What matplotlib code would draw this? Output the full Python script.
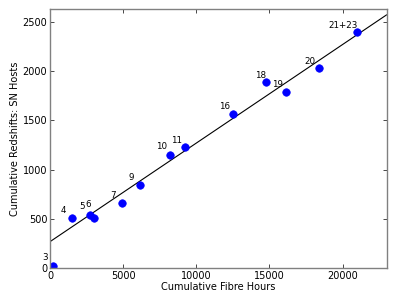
import matplotlib
matplotlib.use("Agg")
import matplotlib.pyplot as plt
import numpy as np

labels = ["3", "4", "5", "6", "7", "9", "10", "11", "16", "18", "19", "20", "21+23"]
fibre_hours = [226, 1507, 2719, 3035, 4932, 6144, 8172, 9199, 12486, 14795, 16118, 18404, 20959]
redshifts = [26, 510, 544, 513, 659, 842, 1152, 1227, 1562, 1886, 1788, 2031, 2393]
fit_intercept = 270
fit_slope = 0.1

label_offsets = [(-8, 8), (-9, 8), (-8, 8), (-6, 13), (-9, 8), (-9, 8), (-8, 8),
                 (-8, 7), (-8, 8), (-6, 7), (-8, 8), (-9, 7), (-14, 7)]

fig = plt.figure(figsize=(3.99, 2.99), dpi=100)
ax = fig.add_axes([0.1253, 0.1027, 0.8434, 0.8672])

xfit = np.array([0, 23000])
ax.plot(xfit, fit_intercept + fit_slope * xfit, color="black", lw=0.8)
ax.plot(fibre_hours, redshifts, "o", color="#0000ff", markersize=5.4,
        markeredgecolor="#0000ff", markeredgewidth=0.5)

for lab, x, y, off in zip(labels, fibre_hours, redshifts, label_offsets):
    ax.annotate(lab, (x, y), xytext=off, textcoords="offset pixels",
                ha="center", va="center", fontsize=6.3)

ax.set_xlim(0, 23000)
ax.set_ylim(0, 2630)
ax.set_xticks([0, 5000, 10000, 15000, 20000])
ax.set_yticks([0, 500, 1000, 1500, 2000, 2500])
ax.tick_params(direction="in", top=True, right=True, labelsize=7, length=3, width=0.5, pad=2)
for s in ax.spines.values():
    s.set_color("#808080")
    s.set_linewidth(1.0)
ax.set_xlabel("Cumulative Fibre Hours", fontsize=7, labelpad=1)
ax.set_ylabel("Cumulative Redshifts: SN Hosts", fontsize=7, labelpad=2)

fig.savefig("out.png", dpi=100)
